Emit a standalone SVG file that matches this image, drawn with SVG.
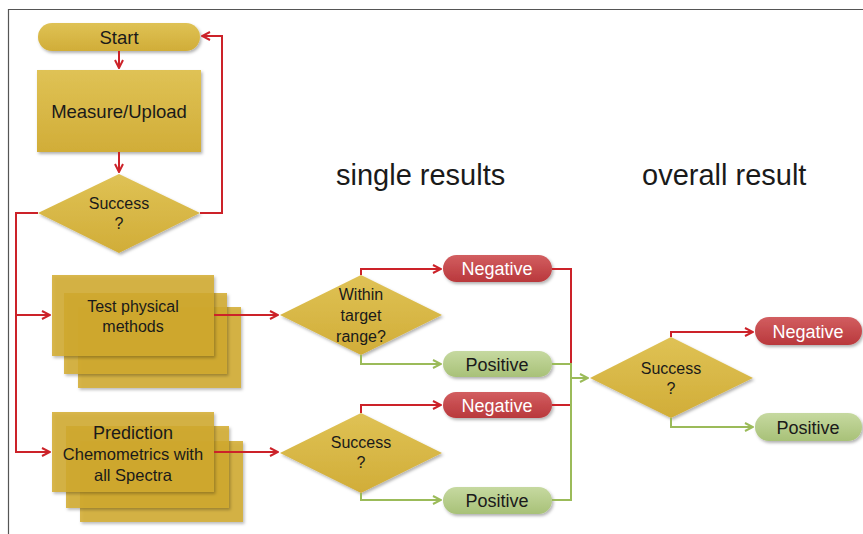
<svg xmlns="http://www.w3.org/2000/svg" width="863" height="534" viewBox="0 0 863 534">
<defs>
<linearGradient id="gold" x1="0" y1="0" x2="0" y2="1"><stop offset="0" stop-color="#DFC255"/><stop offset="1" stop-color="#D1AD38"/></linearGradient>
<linearGradient id="red" x1="0" y1="0" x2="0" y2="1"><stop offset="0" stop-color="#D25E60"/><stop offset="1" stop-color="#B9383C"/></linearGradient>
<linearGradient id="green" x1="0" y1="0" x2="0" y2="1"><stop offset="0" stop-color="#C6D9A0"/><stop offset="1" stop-color="#A8C178"/></linearGradient>
<filter id="sh" x="-10%" y="-10%" width="130%" height="140%"><feDropShadow dx="1.5" dy="2" stdDeviation="1.5" flood-color="#000" flood-opacity="0.3"/></filter>
<marker id="ar" viewBox="0 0 10 10" refX="9" refY="5" markerWidth="10" markerHeight="10" markerUnits="userSpaceOnUse" orient="auto"><path d="M1,1 L9,5 L1,9" fill="none" stroke="#CC2229" stroke-width="2"/></marker>
<marker id="ag" viewBox="0 0 10 10" refX="9" refY="5" markerWidth="10" markerHeight="10" markerUnits="userSpaceOnUse" orient="auto"><path d="M1,1 L9,5 L1,9" fill="none" stroke="#9BBB59" stroke-width="2"/></marker>
</defs>
<style>
text{font-family:"Liberation Sans",Arial,sans-serif;text-anchor:middle;fill:#1a1a1a}
.gold{fill:url(#gold);filter:url(#sh)}
.stk{fill:#D2AA30;fill-opacity:0.85;filter:url(#sh)}
.neg{fill:url(#red);filter:url(#sh)}
.pos{fill:url(#green);filter:url(#sh)}
.rl{fill:none;stroke:#CC2229;stroke-width:2}
.gl{fill:none;stroke:#9BBB59;stroke-width:2}
.w{fill:#fff}
.hd{font-size:29px;text-anchor:start}
</style>
<rect width="863" height="534" fill="#fff"/>
<path d="M8.5,534 V9.5 H863" fill="none" stroke="#555" stroke-width="1.2"/>

<text class="hd" x="336" y="185">single results</text>
<text class="hd" x="642" y="185">overall result</text>

<g id="start"><rect class="gold" x="38" y="23" width="162" height="28" rx="14"/><text x="119" y="43.5" font-size="18.5">Start</text></g>
<g id="measure"><rect class="gold" x="37" y="70" width="164" height="82"/><text x="119" y="117.5" font-size="18.5">Measure/Upload</text></g>
<g id="success1"><polygon class="gold" points="119,174 200,213 119,253 38,213"/><text x="119" y="209" font-size="16">Success</text><text x="119" y="229" font-size="16">?</text></g>

<g id="test"><rect class="stk" x="78" y="307" width="163" height="81"/><rect class="stk" x="64" y="293" width="163" height="81"/><rect class="stk" x="52" y="275" width="162" height="81"/><text x="133" y="312" font-size="16">Test physical</text><text x="133" y="332" font-size="16">methods</text></g>
<g id="prediction"><rect class="stk" x="80" y="441" width="163" height="81"/><rect class="stk" x="66" y="426" width="163" height="82"/><rect class="stk" x="52" y="412" width="162" height="80"/><text x="133" y="439" font-size="18">Prediction</text><text x="133" y="460" font-size="16.5">Chemometrics with</text><text x="133" y="481" font-size="16.5">all Spectra</text></g>

<g id="within"><polygon class="gold" points="361,275 442,315 361,355 280,315"/><text x="361" y="300" font-size="16">Within</text><text x="361" y="321" font-size="16">target</text><text x="361" y="342" font-size="16">range?</text></g>
<g id="success2"><polygon class="gold" points="361,413 442,453 361,493 280,453"/><text x="361" y="448" font-size="16">Success</text><text x="361" y="468" font-size="16">?</text></g>
<g id="success3"><polygon class="gold" points="671,337 753,378 671,418 590,378"/><text x="671" y="374" font-size="16">Success</text><text x="671" y="394" font-size="16">?</text></g>

<g id="neg1"><rect class="neg" x="443" y="255" width="109" height="27" rx="13.5"/><text class="w" x="497" y="275" font-size="18">Negative</text></g>
<g id="pos1"><rect class="pos" x="443" y="351" width="109" height="26" rx="13"/><text x="497" y="370.5" font-size="18">Positive</text></g>
<g id="neg2"><rect class="neg" x="443" y="392" width="109" height="26" rx="13"/><text class="w" x="497" y="411.5" font-size="18">Negative</text></g>
<g id="pos2"><rect class="pos" x="443" y="487" width="109" height="27" rx="13.5"/><text x="497" y="507" font-size="18">Positive</text></g>
<g id="neg3"><rect class="neg" x="755" y="317" width="107" height="28" rx="14"/><text class="w" x="808" y="337.5" font-size="18">Negative</text></g>
<g id="pos3"><rect class="pos" x="755" y="413" width="107" height="28" rx="14"/><text x="808" y="433.5" font-size="18">Positive</text></g>

<g id="connectors">
<path class="rl" d="M119,51 V68" marker-end="url(#ar)"/>
<path class="rl" d="M119,152 V172" marker-end="url(#ar)"/>
<path class="rl" d="M200,213 H222 V36 H202" marker-end="url(#ar)"/>
<path class="rl" d="M38,213 H16 V452 H50" marker-end="url(#ar)"/>
<path class="rl" d="M16,315 H50" marker-end="url(#ar)"/>
<path class="rl" d="M214,315 H278" marker-end="url(#ar)"/>
<path class="rl" d="M214,452 H278" marker-end="url(#ar)"/>
<path class="rl" d="M361,275 V269 H441" marker-end="url(#ar)"/>
<path class="gl" d="M361,355 V364 H441" marker-end="url(#ag)"/>
<path class="rl" d="M361,413 V405 H441" marker-end="url(#ar)"/>
<path class="gl" d="M361,493 V500 H441" marker-end="url(#ag)"/>
<path class="rl" d="M552,269 H571 V364"/>
<path class="gl" d="M552,364 H571 V500 H552"/>
<path class="rl" d="M552,405 H570"/>
<path class="gl" d="M571,378 H588" marker-end="url(#ag)"/>
<path class="rl" d="M671,337 V332 H753" marker-end="url(#ar)"/>
<path class="gl" d="M671,418 V427 H753" marker-end="url(#ag)"/>
</g>
</svg>
